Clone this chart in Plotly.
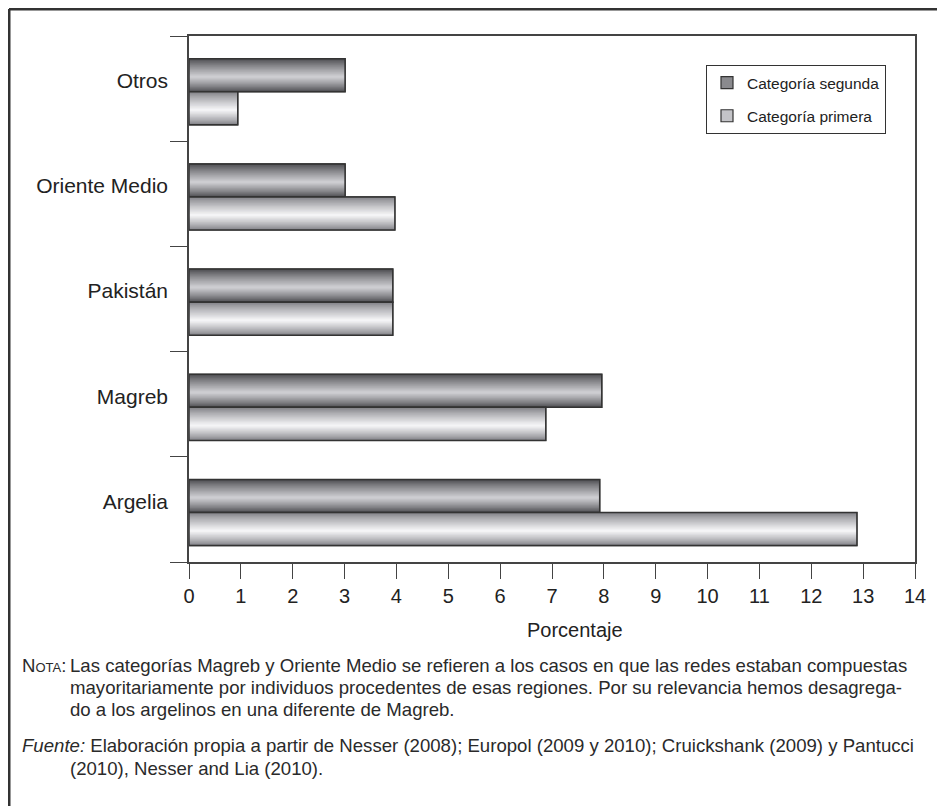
import plotly.graph_objects as go

# data (bottom to top as drawn)
categorias = ['Argelia', 'Magreb', 'Pakistán', 'Oriente Medio', 'Otros']
cat_segunda = [7.92, 7.96, 3.93, 3.01, 3.01]
cat_primera = [12.88, 6.88, 3.93, 3.97, 0.94]
x_ticks = list(range(0, 15))

# the page body adds 8px around the figure, so work in page pixels
OFF = 8
W, H = 937, 798
ML, MR, MT, MB = 181, 30, 28, 244
PW, PH = W - ML - MR, H - MT - MB


def px2x(px):
    return (px - OFF - ML) / PW


def px2y(py):
    return (H - MB - (py - OFF)) / PH


def lerp_color(c1, c2, t):
    r = [round(a + (b - a) * t) for a, b in zip(c1, c2)]
    return 'rgb(%d,%d,%d)' % tuple(r)


BAR_W = 0.314
SHIFT = -0.03
N_BANDS = 16

fig = go.Figure()


def add_series(name, values, lo, edge, light, legend_col, group):
    hi = lo + BAR_W
    s = lo + 0.45 * BAR_W
    # base bar, used for the legend swatch
    fig.add_trace(go.Bar(y=categorias, x=values, orientation='h', name=name,
                         width=BAR_W, offset=lo, legendgroup=group,
                         marker=dict(color=legend_col, line=dict(color='#333333', width=1.2)),
                         hoverinfo='skip'))
    # bands to fake the cylinder shading
    for k in range(N_BANDS):
        t = k / N_BANDS
        b_lo = lo + t * (s - lo)
        b_hi = hi - t * (hi - s)
        fig.add_trace(go.Bar(y=categorias, x=values, orientation='h',
                             width=b_hi - b_lo, offset=b_lo, showlegend=False,
                             legendgroup=group,
                             marker=dict(color=lerp_color(edge, light, t ** 0.85),
                                         line=dict(width=0)),
                             hoverinfo='skip'))
    # outline
    fig.add_trace(go.Bar(y=categorias, x=values, orientation='h', width=BAR_W,
                         offset=lo, showlegend=False, legendgroup=group,
                         marker=dict(color='rgba(0,0,0,0)',
                                     line=dict(color='#333333', width=1.5)),
                         hovertemplate=name + ': %{x}<extra></extra>'))


add_series('Categoría segunda', cat_segunda, SHIFT,
           [78, 78, 82], [212, 212, 216], '#8a8a8e', 'seg')
add_series('Categoría primera', cat_primera, SHIFT - BAR_W,
           [130, 130, 135], [250, 250, 252], '#c4c4c8', 'pri')

fig.update_layout(
    width=W, height=H, barmode='overlay',
    margin=dict(l=ML, r=MR, t=MT, b=MB),
    plot_bgcolor='white', paper_bgcolor='white',
    font=dict(family='Liberation Sans, Arial, sans-serif', color='#222222'),
    legend=dict(x=px2x(706), y=px2y(65), xanchor='left', yanchor='top',
                bordercolor='#333333', borderwidth=1, bgcolor='white',
                font=dict(size=15.5), traceorder='grouped', tracegroupgap=10,
                itemwidth=30),
)

fig.update_xaxes(range=[0, 14], tickvals=x_ticks, ticks='outside', ticklen=15,
                 tickcolor='#444444', tickwidth=1.3, showline=True,
                 linecolor='#444444', linewidth=1.5, mirror=True,
                 showgrid=False, zeroline=False, tickfont=dict(size=20))
fig.update_yaxes(type='category', range=[-0.5, 4.5], tickson='boundaries',
                 ticks='outside', ticklen=17, tickcolor='#444444', tickwidth=1.3,
                 showline=True, linecolor='#444444', linewidth=1.5, mirror=True,
                 showgrid=False, tickfont=dict(size=21),
                 ticklabelstandoff=15, ticklabelshift=-8)

# x axis title
fig.add_annotation(x=px2x(575), y=px2y(630), xref='paper', yref='paper',
                   text='Porcentaje', showarrow=False, font=dict(size=20),
                   xanchor='center', yanchor='middle')

# outer frame (top and left edges only)
fig.add_shape(type='line', xref='paper', yref='paper',
              x0=px2x(OFF + 1), x1=px2x(OFF + W), y0=px2y(OFF + 1), y1=px2y(OFF + 1),
              line=dict(color='#333333', width=3))
fig.add_shape(type='line', xref='paper', yref='paper',
              x0=px2x(OFF + 1), x1=px2x(OFF + 1), y0=px2y(OFF + 1), y1=px2y(OFF + H),
              line=dict(color='#333333', width=3))

notas = [
    (20, 665, "N<span style='font-size:13px'>OTA</span>:"),
    (68, 665, "Las categorías Magreb y Oriente Medio se refieren a los casos en que las redes estaban compuestas"),
    (68, 687, "mayoritariamente por individuos procedentes de esas regiones. Por su relevancia hemos desagrega-"),
    (68, 709, "do a los argelinos en una diferente de Magreb."),
    (20, 746, "<i>Fuente:</i> Elaboración propia a partir de Nesser (2008); Europol (2009 y 2010); Cruickshank (2009) y Pantucci"),
    (68, 768, "(2010), Nesser and Lia (2010)."),
]
for px, py, txt in notas:
    fig.add_annotation(x=px2x(px), y=px2y(py), xref='paper', yref='paper',
                       xanchor='left', yanchor='middle', text=txt,
                       showarrow=False, font=dict(size=18.6, color='#2a2a2a'))

fig.write_html("out.html")
